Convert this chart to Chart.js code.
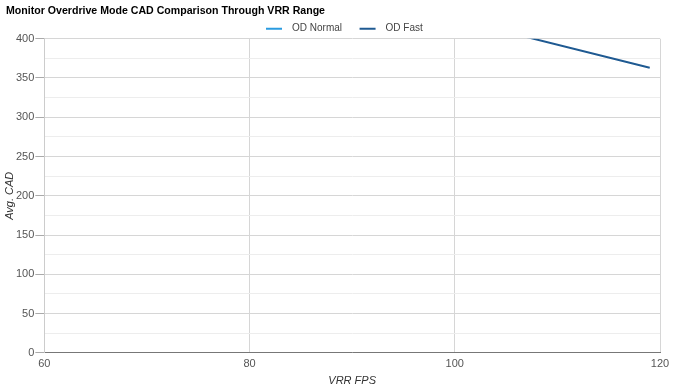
<!DOCTYPE html>
<html>
<head>
<meta charset="utf-8">
<script src="https://cdn.jsdelivr.net/npm/chart.js@4"></script>
<style>
  html, body { margin: 0; padding: 0; background: #fff; }
  #wrap { width: 675px; height: 390px; }
</style>
</head>
<body>
<div id="wrap"><canvas id="chart" width="675" height="390"></canvas></div>
<script>
// FPS points and CAD values (OD Normal sits above the 400 cap everywhere)
const fps = [60, 80, 100, 119];
const odNormal = [700, 600, 520, 450];
const odFast = [620, 520, 425, 363];
const yTicks = [0, 50, 100, 150, 200, 250, 300, 350, 400];
const xTicks = [60, 80, 100, 120];

const toPoints = vals => fps.map((f, i) => ({ x: f, y: vals[i] }));
const baseFont = "Liberation Sans, Arial";

// Trim the empty band under the legend so the plot starts closer to it
const tightLegend = {
  id: "tightLegend",
  beforeLayout(chart) {
    const lg = chart.legend;
    if (!lg || lg._tight) return;
    const fit = lg.fit.bind(lg);
    lg.fit = function () { fit(); this.height -= 5; };
    lg._tight = true;
  }
};

const ctx = document.getElementById("chart").getContext("2d");
new Chart(ctx, {
  type: "line",
  plugins: [tightLegend],
  data: {
    datasets: [
      {
        label: "OD Normal",
        data: toPoints(odNormal),
        borderColor: "#2a9be0",
        backgroundColor: "#2a9be0",
        borderWidth: 2,
        pointRadius: 0,
        fill: false,
        clip: 0
      },
      {
        label: "OD Fast",
        data: toPoints(odFast),
        borderColor: "#1f5a92",
        backgroundColor: "#1f5a92",
        borderWidth: 2,
        pointRadius: 0,
        fill: false,
        clip: 0
      }
    ]
  },
  options: {
    responsive: false,
    animation: false,
    layout: { padding: { left: 6, right: 15, top: 0, bottom: 0 } },
    plugins: {
      title: {
        display: true,
        text: "Monitor Overdrive Mode CAD Comparison Through VRR Range",
        align: "start",
        color: "#000",
        font: { family: baseFont, size: 10.6, weight: "bold" },
        padding: { top: 5, bottom: 4 }
      },
      legend: {
        fullSize: false,
        labels: {
          usePointStyle: true,
          pointStyle: "line",
          pointStyleWidth: 16,
          boxWidth: 16,
          color: "#444",
          font: { family: baseFont, size: 10 },
          padding: 2,
          // extra spacing round each label, like the reference legend
          generateLabels: chart => Chart.defaults.plugins.legend.labels.generateLabels(chart)
            .map(item => ({ ...item, text: "\u2002" + item.text + "\u2002\u2002  " }))
        }
      },
      tooltip: { enabled: false }
    },
    scales: {
      x: {
        type: "linear",
        min: 60,
        max: 120,
        afterBuildTicks: s => { s.ticks = xTicks.map(v => ({ value: v })); },
        ticks: {
          color: "#555",
          font: { family: baseFont, size: 11 },
          padding: 5
        },
        grid: { color: "#d6d6d6", drawTicks: false },
        border: { color: "#777" },
        title: {
          display: true,
          text: "VRR FPS",
          color: "#333",
          font: { family: baseFont, size: 11, style: "italic", lineHeight: 1 },
          padding: { top: -1, bottom: 4 }
        }
      },
      y: {
        min: 0,
        max: 400,
        ticks: {
          stepSize: 25,
          color: "#555",
          font: { family: baseFont, size: 11 },
          padding: 1,
          callback: v => (yTicks.includes(v) ? v : "")
        },
        grid: {
          color: c => (c.tick && c.tick.value % 50 === 0 ? "#d6d6d6" : "#ededed"),
          tickColor: c => (c.tick && c.tick.value % 50 === 0 ? "#aaa" : "rgba(0,0,0,0)"),
          tickLength: 9
        },
        border: { color: "#ccc" },
        title: {
          display: true,
          text: "Avg. CAD",
          color: "#333",
          font: { family: baseFont, size: 11, style: "italic", lineHeight: 1 },
          padding: { top: -2, bottom: 0 }
        }
      }
    }
  }
});
</script>
</body>
</html>
